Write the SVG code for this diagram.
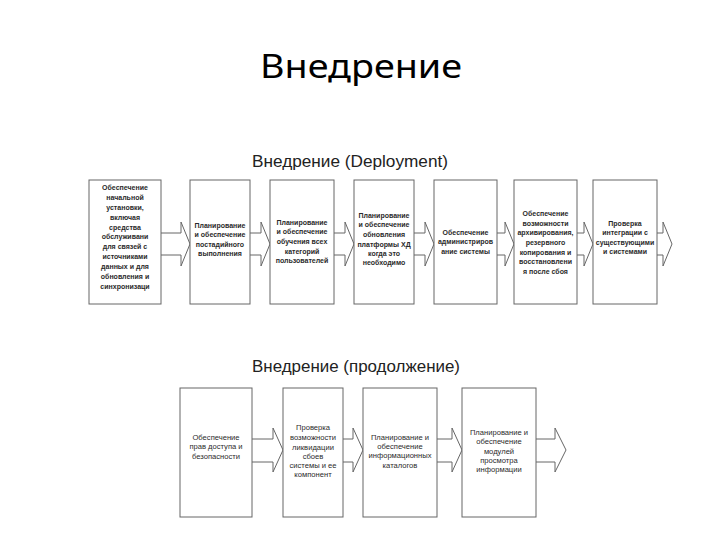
<svg xmlns="http://www.w3.org/2000/svg" width="720" height="540" viewBox="0 0 720 540">
<style>
.bg{fill:#ffffff}
.box{fill:#ffffff;stroke:#666;stroke-width:1}
.arr{fill:#ffffff;stroke:#666;stroke-width:1;stroke-linejoin:miter}
.t{font-family:"Liberation Sans",Arial,sans-serif;font-size:7px;font-weight:bold;fill:#2a2a2a;text-anchor:middle}
.tb{font-family:"Liberation Sans",Arial,sans-serif;font-size:7.6px;fill:#2a2a2a;text-anchor:middle}
.h1{font-family:"Noto Sans","Open Sans",sans-serif;font-size:33px;fill:#000;text-anchor:middle}
.h2{font-family:"Liberation Sans",Arial,sans-serif;font-size:17px;fill:#222;text-anchor:middle}
</style>
<rect class="bg" x="0" y="0" width="720" height="540"/>
<text class="h1" x="361" y="78" textLength="202" lengthAdjust="spacingAndGlyphs">Внедрение</text>
<text class="h2" x="350" y="167" textLength="196" lengthAdjust="spacingAndGlyphs">Внедрение (Deployment)</text>
<text class="h2" x="356" y="372" textLength="208" lengthAdjust="spacingAndGlyphs">Внедрение (продолжение)</text>

<g id="connectors">
<path class="arr" d="M161,233 H181 V222 L190,244 L181,266 V255 H161"/>
<path class="arr" d="M250,233 H261 V222 L270,244 L261,266 V255 H250"/>
<path class="arr" d="M334,233 H345 V222 L354,244 L345,266 V255 H334"/>
<path class="arr" d="M414,233 H425 V222 L434,244 L425,266 V255 H414"/>
<path class="arr" d="M497,233 H505 V222 L514,244 L505,266 V255 H497"/>
<path class="arr" d="M577,233 H584 V222 L593,244 L584,266 V255 H577"/>
<path class="arr" d="M657,233 H663 V222 L672,244 L663,266 V255 H657"/>
<path class="arr" d="M252,439 H273 V428 L283,450 L273,472 V462 H252"/>
<path class="arr" d="M343,439 H353 V428 L363,450 L353,472 V462 H343"/>
<path class="arr" d="M437,439 H452 V428 L462,450 L452,472 V462 H437"/>
<path class="arr" d="M536,439 H555 V428 L566,450 L555,472 V462 H536"/>
</g>

<g id="n1">
<rect class="box" x="89" y="180" width="72" height="124"/>
<text class="t" x="125" y="190">Обеспечение</text>
<text class="t" x="125" y="200">начальной</text>
<text class="t" x="125" y="210">установки,</text>
<text class="t" x="125" y="220">включая</text>
<text class="t" x="125" y="230">средства</text>
<text class="t" x="125" y="239">обслуживани</text>
<text class="t" x="125" y="249">для связей с</text>
<text class="t" x="125" y="259">источниками</text>
<text class="t" x="125" y="269">данных и для</text>
<text class="t" x="125" y="279">обновления и</text>
<text class="t" x="125" y="289">синхронизаци</text>
</g>
<g id="n2">
<rect class="box" x="190" y="180" width="60" height="124"/>
<text class="t" x="220" y="228">Планирование</text>
<text class="t" x="220" y="237">и обеспечение</text>
<text class="t" x="220" y="247">постадийного</text>
<text class="t" x="220" y="256">выполнения</text>
</g>
<g id="n3">
<rect class="box" x="270" y="180" width="64" height="124"/>
<text class="t" x="302" y="225">Планирование</text>
<text class="t" x="302" y="234">и обеспечение</text>
<text class="t" x="302" y="244">обучения всех</text>
<text class="t" x="302" y="254">категорий</text>
<text class="t" x="302" y="263">пользователей</text>
</g>
<g id="n4">
<rect class="box" x="354" y="180" width="60" height="124"/>
<text class="t" x="384" y="218">Планирование</text>
<text class="t" x="384" y="227">и обеспечение</text>
<text class="t" x="384" y="237">обновления</text>
<text class="t" x="384" y="247">платформы ХД</text>
<text class="t" x="384" y="256">когда это</text>
<text class="t" x="384" y="265">необходимо</text>
</g>
<g id="n5">
<rect class="box" x="434" y="180" width="63" height="124"/>
<text class="t" x="465.5" y="235">Обеспечение</text>
<text class="t" x="465.5" y="244">администриров</text>
<text class="t" x="465.5" y="254">ание системы</text>
</g>
<g id="n6">
<rect class="box" x="514" y="180" width="63" height="124"/>
<text class="t" x="545.5" y="216">Обеспечение</text>
<text class="t" x="545.5" y="226">возможности</text>
<text class="t" x="545.5" y="235">архивирования,</text>
<text class="t" x="545.5" y="245">резервного</text>
<text class="t" x="545.5" y="255">копирования и</text>
<text class="t" x="545.5" y="264">восстановлени</text>
<text class="t" x="545.5" y="274">я после сбоя</text>
</g>
<g id="n7">
<rect class="box" x="593" y="180" width="64" height="124"/>
<text class="t" x="625" y="226">Проверка</text>
<text class="t" x="625" y="235">интеграции с</text>
<text class="t" x="625" y="245">существующими</text>
<text class="t" x="625" y="254">и системами</text>
</g>

<g id="n8">
<rect class="box" x="180" y="388" width="72" height="129"/>
<text class="tb" x="216" y="440">Обеспечение</text>
<text class="tb" x="216" y="449">прав доступа и</text>
<text class="tb" x="216" y="459">безопасности</text>
</g>
<g id="n9">
<rect class="box" x="283" y="388" width="60" height="129"/>
<text class="tb" x="313" y="430">Проверка</text>
<text class="tb" x="313" y="440">возможности</text>
<text class="tb" x="313" y="450">ликвидации</text>
<text class="tb" x="313" y="459">сбоев</text>
<text class="tb" x="313" y="468">системы и ее</text>
<text class="tb" x="313" y="477">компонент</text>
</g>
<g id="n10">
<rect class="box" x="363" y="388" width="74" height="129"/>
<text class="tb" x="400" y="440">Планирование и</text>
<text class="tb" x="400" y="449">обеспечение</text>
<text class="tb" x="400" y="458">информационных</text>
<text class="tb" x="400" y="468">каталогов</text>
</g>
<g id="n11">
<rect class="box" x="462" y="388" width="74" height="129"/>
<text class="tb" x="499" y="435">Планирование и</text>
<text class="tb" x="499" y="444">обеспечение</text>
<text class="tb" x="499" y="454">модулей</text>
<text class="tb" x="499" y="463">просмотра</text>
<text class="tb" x="499" y="472">информации</text>
</g>
</svg>
